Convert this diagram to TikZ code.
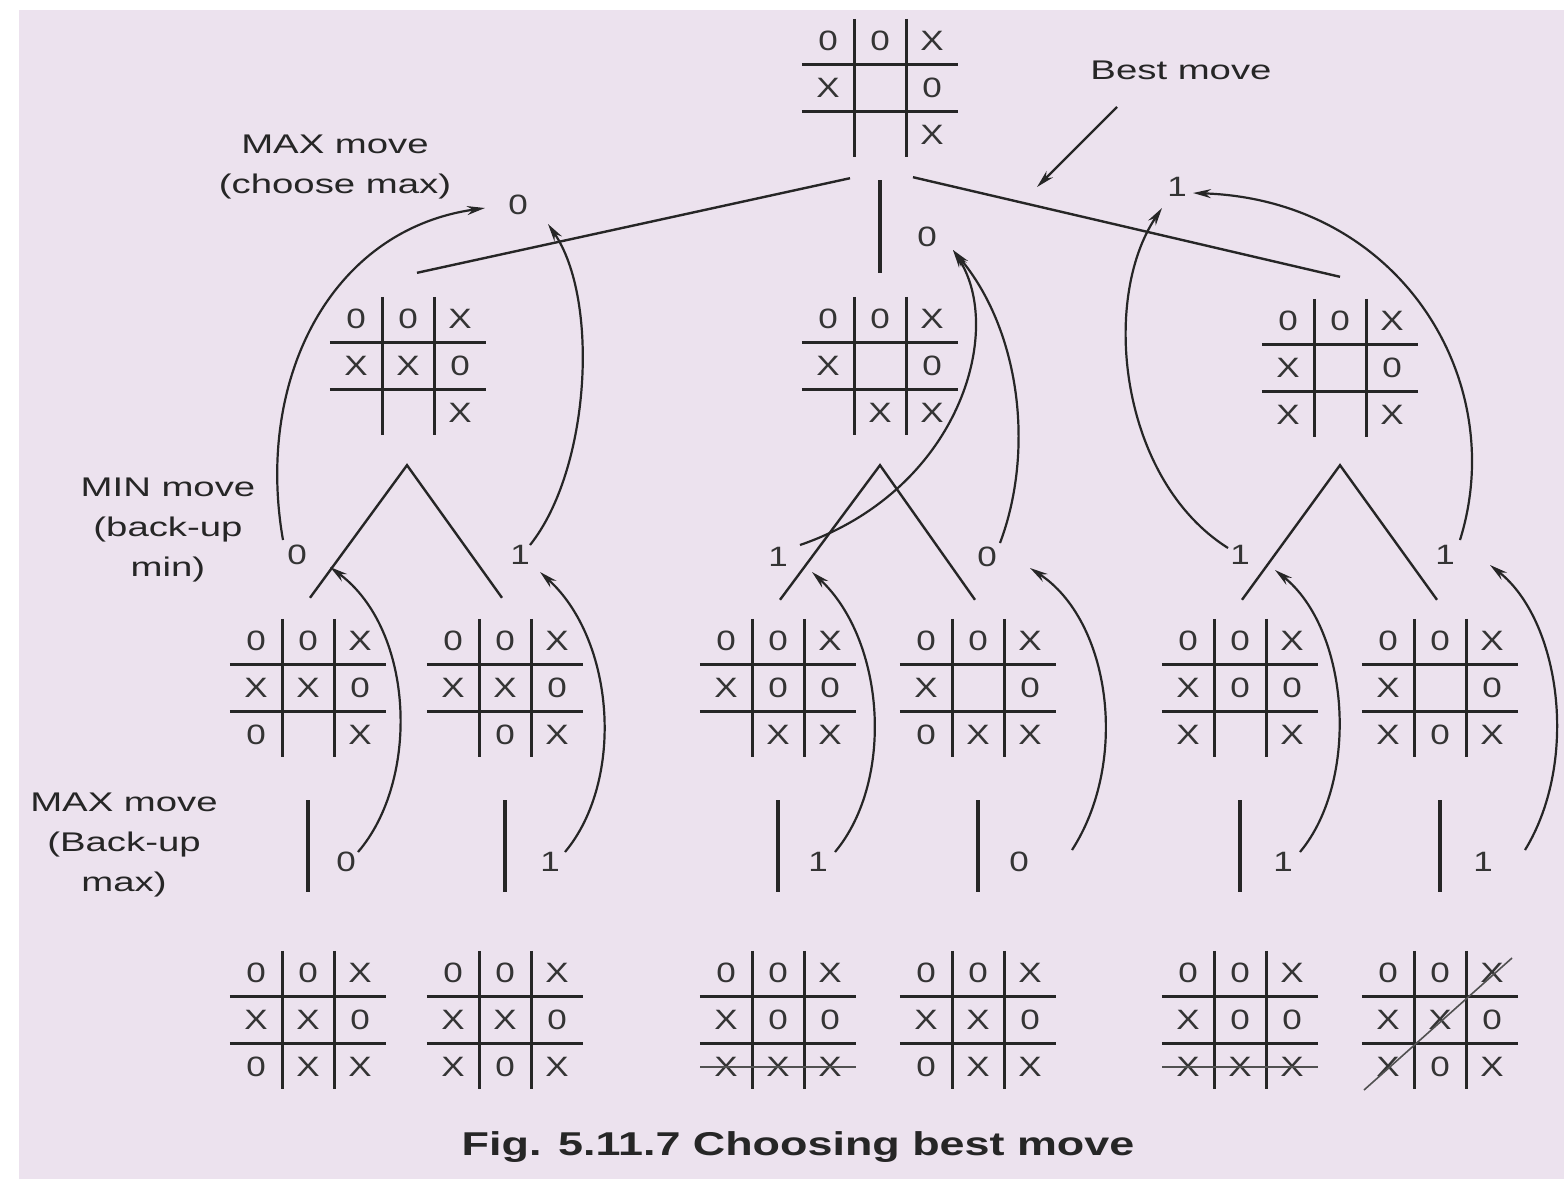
\documentclass[tikz,border=0pt]{standalone}
\usepackage{fontspec}
\setmainfont{Liberation Sans}
\newfontfamily\symfont[FakeStretch=1.25]{Liberation Sans}
\newfontfamily\lblfont[FakeStretch=1.42]{Liberation Sans}
\newfontfamily\capfont[FakeStretch=1.36]{Liberation Sans}
\usetikzlibrary{arrows.meta,calc}
\definecolor{bgcol}{RGB}{236,226,238}
\definecolor{inkcol}{RGB}{38,38,38}
\definecolor{symcol}{RGB}{52,52,52}
\tikzset{
  boardbox/.style={minimum width=156pt,minimum height=138pt,inner sep=0pt,draw=none},
  gridline/.style={draw=inkcol,line width=3pt},
  symnode/.style={font=\symfont\fontsize{28}{30}\selectfont,text=symcol,inner sep=0pt,anchor=center},
  valnode/.style={font=\symfont\fontsize{28}{30}\selectfont,text=symcol,inner sep=2pt},
  lbl/.style={font=\lblfont\fontsize{27}{40}\selectfont,text=inkcol,align=center,inner sep=0pt},
  edge/.style={draw=inkcol,line width=2.4pt},
  thickedge/.style={draw=inkcol,line width=3.2pt},
  arr/.style={draw=inkcol,line width=2.2pt,-{Stealth[length=18pt,width=9pt]}},
  strike/.style={draw=inkcol!80,line width=1.6pt}
}
\newcommand\tttboard[3]{%
  \node[boardbox] (#1) at (#2) {};
  \draw[gridline] ([xshift=-26pt]#1.north) -- ([xshift=-26pt]#1.south)
                  ([xshift=26pt]#1.north) -- ([xshift=26pt]#1.south)
                  ([yshift=23.5pt]#1.west) -- ([yshift=23.5pt]#1.east)
                  ([yshift=-23.5pt]#1.west) -- ([yshift=-23.5pt]#1.east);
  \foreach \s [count=\k from 0] in {#3} {%
    \pgfmathtruncatemacro\tttrow{div(\k,3)}%
    \pgfmathtruncatemacro\tttcol{mod(\k,3)}%
    \node[symnode] (#1-\k) at ($(#1.center)+(\tttcol*52-52,\tttrow*47-47)$) {\s};
  }%
}
\begin{document}
\begin{tikzpicture}[x=1pt,y=-1pt]
\useasboundingbox (0,0) rectangle (1564,1179);
\fill[white] (0,0) rectangle (1564,1179);
\fill[bgcol] (19,10) rectangle (1564,1179);

% boards
\tttboard{root}{880,88}{0,0,X,X,{},0,{},{},X}
\tttboard{b1}{408,366}{0,0,X,X,X,0,{},{},X}
\tttboard{b2}{880,366}{0,0,X,X,{},0,{},X,X}
\tttboard{b3}{1340,368}{0,0,X,X,{},0,X,{},X}

\tttboard{c1}{308,688}{0,0,X,X,X,0,0,{},X}
\tttboard{c2}{505,688}{0,0,X,X,X,0,{},0,X}
\tttboard{c3}{778,688}{0,0,X,X,0,0,{},X,X}
\tttboard{c4}{978,688}{0,0,X,X,{},0,0,X,X}
\tttboard{c5}{1240,688}{0,0,X,X,0,0,X,{},X}
\tttboard{c6}{1440,688}{0,0,X,X,{},0,X,0,X}

\tttboard{d1}{308,1020}{0,0,X,X,X,0,0,X,X}
\tttboard{d2}{505,1020}{0,0,X,X,X,0,X,0,X}
\tttboard{d3}{778,1020}{0,0,X,X,0,0,X,X,X}
\tttboard{d4}{978,1020}{0,0,X,X,X,0,0,X,X}
\tttboard{d5}{1240,1020}{0,0,X,X,0,0,X,X,X}
\tttboard{d6}{1440,1020}{0,0,X,X,X,0,X,0,X}

% winning strikes
\draw[strike] ([shift={(-78,47)}]d3.center) -- ([shift={(78,47)}]d3.center);
\draw[strike] ([shift={(-78,47)}]d5.center) -- ([shift={(78,47)}]d5.center);
\draw[strike] ([shift={(-76,70)}]d6.center) -- ([shift={(72,-62)}]d6.center);

% values
\node[valnode] (L1a) at (518,205) {0};
\node[valnode] (L1b) at (927,237) {0};
\node[valnode] (L1c) at (1177,187) {1};
\node[valnode] (L2a) at (297,555) {0};
\node[valnode] (L2b) at (520,555) {1};
\node[valnode] (L2c) at (778,557) {1};
\node[valnode] (L2d) at (987,557) {0};
\node[valnode] (L2e) at (1240,555) {1};
\node[valnode] (L2f) at (1445,555) {1};
\node[valnode] (L3a) at (346,862) {0};
\node[valnode] (L3b) at (550,862) {1};
\node[valnode] (L3c) at (818,862) {1};
\node[valnode] (L3d) at (1019,862) {0};
\node[valnode] (L3e) at (1283,862) {1};
\node[valnode] (L3f) at (1483,862) {1};

% labels
\node[lbl] (lmax1) at (335,167) {MAX move\\(choose max)};
\node[lbl] (lmin) at (168,530) {MIN move\\(back-up\\min)};
\node[lbl] (lmax2) at (124,845) {MAX move\\(Back-up\\max)};
\node[lbl] (best) at (1181,70) {Best move};
\node[font=\capfont\bfseries\fontsize{33}{40}\selectfont,text=inkcol,inner sep=0pt] (cap) at (798,1147) {Fig. 5.11.7 Choosing best move};

% tree edges level 1
\draw[edge] ([shift={(-30,21)}]root.south) -- ([shift={(9,-24)}]b1.north);
\draw[thickedge] ([shift={(0,23)}]root.south) -- ([shift={(0,-24)}]b2.north);
\draw[edge] ([shift={(33,20)}]root.south) -- ([shift={(0,-22)}]b3.north);

% tree edges level 2
\draw[edge] ([shift={(2,-21)}]c1.north) -- ([shift={(-1,30)}]b1.south) -- ([shift={(-3,-21)}]c2.north);
\draw[edge] ([shift={(2,-19)}]c3.north) -- ([shift={(0,30)}]b2.south) -- ([shift={(-3,-19)}]c4.north);
\draw[edge] ([shift={(2,-19)}]c5.north) -- ([shift={(0,28)}]b3.south) -- ([shift={(-3,-19)}]c6.north);

% tree edges level 3
\foreach \u/\w in {c1/d1,c2/d2,c3/d3,c4/d4,c5/d5,c6/d6}
  \draw[thickedge] ([yshift=-43pt]\u.south) -- ([yshift=59pt]\w.north);

% back-up arrows to level 1
\draw[arr] ([shift={(-14,-15)}]L2a.center) .. controls (255,380) and (330,230) .. ([shift={(-33,3)}]L1a.center);
\draw[arr] ([shift={(10,-10)}]L2b.center) .. controls (590,470) and (600,300) .. ([shift={(30,19)}]L1a.center);
\draw[arr] ([shift={(22,-12)}]L2c.center) .. controls (960,490) and (1005,330) .. ([shift={(26,13)}]L1b.center);
\draw[arr] ([shift={(13,-14)}]L2d.center) .. controls (1035,450) and (1020,330) .. ([shift={(26,13)}]L1b.center);
\draw[arr] ([shift={(-12,-7)}]L2e.center) .. controls (1120,480) and (1100,300) .. ([shift={(-15,21)}]L1c.center);
\draw[arr] ([shift={(15,-15)}]L2f.center) .. controls (1510,380) and (1400,200) .. ([shift={(16,6)}]L1c.center);

% back-up arrows to level 2
\draw[arr] ([shift={(12,-10)}]L3a.center) .. controls (420,780) and (415,630) .. ([shift={(33,12)}]L2a.center);
\draw[arr] ([shift={(15,-10)}]L3b.center) .. controls (625,780) and (615,640) .. ([shift={(20,17)}]L2b.center);
\draw[arr] ([shift={(17,-10)}]L3c.center) .. controls (895,780) and (885,640) .. ([shift={(34,15)}]L2c.center);
\draw[arr] ([shift={(53,-12)}]L3d.center) .. controls (1130,760) and (1110,620) .. ([shift={(43,11)}]L2d.center);
\draw[arr] ([shift={(17,-10)}]L3e.center) .. controls (1360,780) and (1350,630) .. ([shift={(35,15)}]L2e.center);
\draw[arr] ([shift={(42,-12)}]L3f.center) .. controls (1580,760) and (1560,620) .. ([shift={(45,10)}]L2f.center);

% best move pointer
\coordinate (bmtip) at (1037,187);
\draw[arr] ([shift={(-64,37)}]best.center) -- (bmtip);
\end{tikzpicture}
\end{document}
